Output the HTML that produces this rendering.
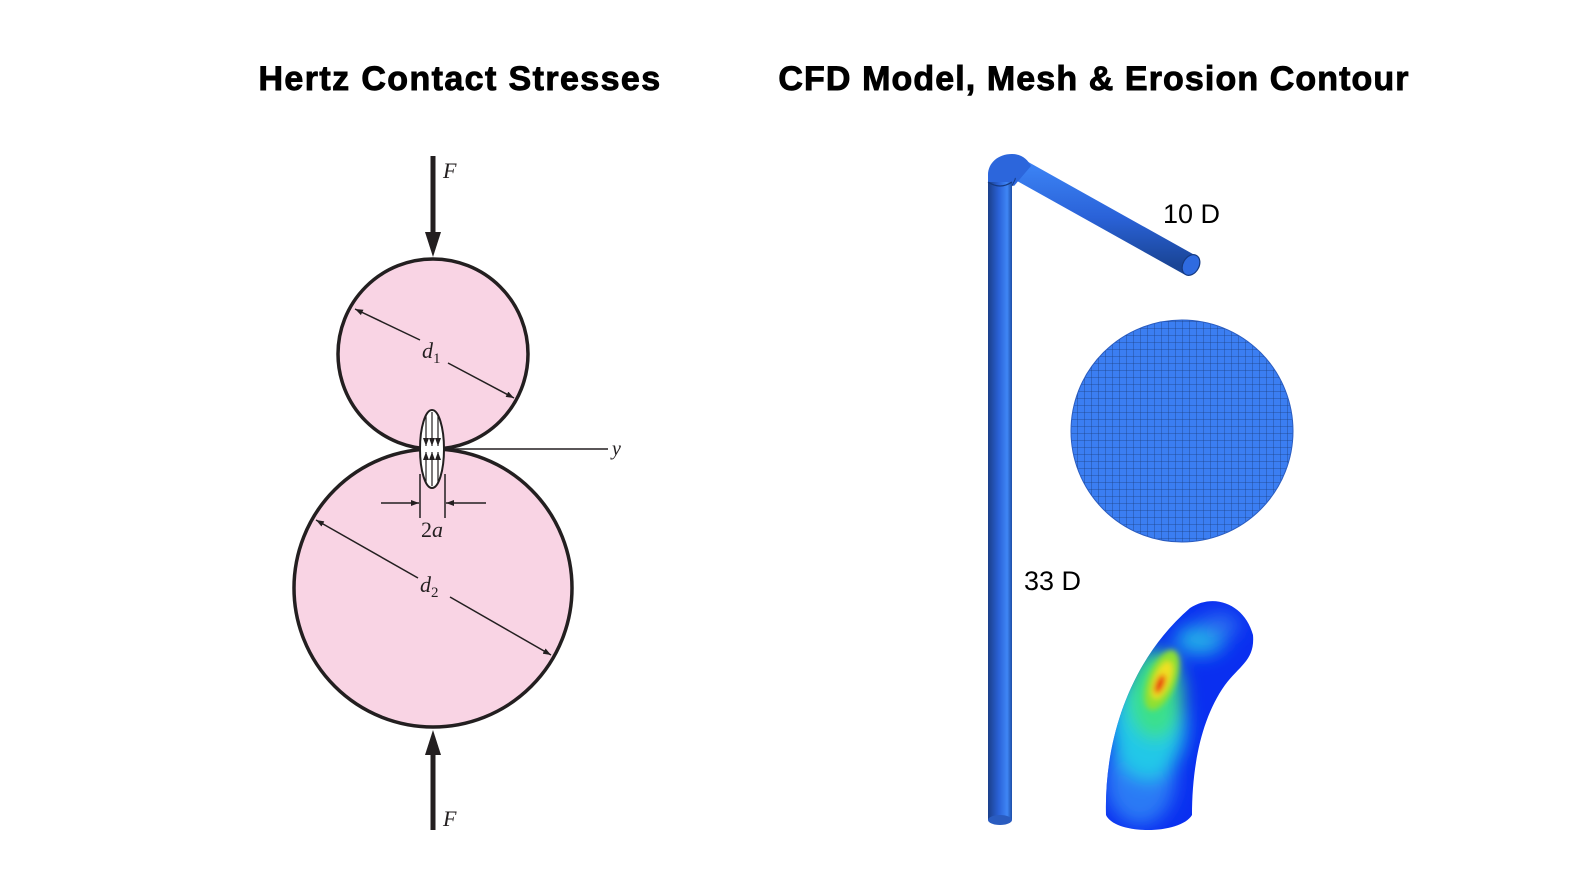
<!DOCTYPE html>
<html><head><meta charset="utf-8"><style>
html,body{margin:0;padding:0;background:#fff;width:1596px;height:892px;overflow:hidden}
svg{display:block}
</style></head><body>
<svg width="1596" height="892" viewBox="0 0 1596 892" xmlns="http://www.w3.org/2000/svg">
<defs>
<marker id="sa" markerWidth="8" markerHeight="6" refX="8" refY="3" orient="auto" markerUnits="userSpaceOnUse"><path d="M0,0 L8,3 L0,6z" fill="#231f20"/></marker>
<pattern id="grid" width="7" height="7" patternUnits="userSpaceOnUse"><path d="M7 0V7M0 7H7" stroke="#17366e" stroke-width="0.8" opacity="0.85"/></pattern>
<linearGradient id="pv" x1="0" x2="1" y1="0" y2="0"><stop offset="0" stop-color="#1b3f8a"/><stop offset="0.45" stop-color="#2a62d8"/><stop offset="0.8" stop-color="#3f86f5"/><stop offset="1" stop-color="#1d4ea8"/></linearGradient>
<linearGradient id="ph" x1="0" x2="0" y1="0" y2="1"><stop offset="0" stop-color="#3a80f2"/><stop offset="0.5" stop-color="#2a62d8"/><stop offset="1" stop-color="#1a4596"/></linearGradient>
<clipPath id="bend"><path d="M1106,815 C1104,740 1130,660 1190,608 C1215,592 1245,605 1253,635 C1255,660 1240,665 1225,685 C1200,720 1192,770 1192,815 C1180,835 1115,835 1106,815z"/></clipPath>
<filter id="bl"><feGaussianBlur stdDeviation="9"/></filter>
<filter id="bl2"><feGaussianBlur stdDeviation="3"/></filter>
</defs>

<g font-family="Liberation Sans, sans-serif" font-weight="bold" font-size="34" fill="#000" stroke="#000" stroke-width="0.9" text-anchor="middle">
<text x="460" y="90" letter-spacing="1.4">Hertz Contact Stresses</text>
<text x="1094" y="90" letter-spacing="1.1">CFD Model, Mesh &amp; Erosion Contour</text>
</g>

<!-- Hertz -->
<circle cx="433" cy="354" r="95" fill="#f9d4e4" stroke="#231f20" stroke-width="3.5"/>
<circle cx="433" cy="588" r="139" fill="#f9d4e4" stroke="#231f20" stroke-width="3.5"/>
<line x1="433" y1="156" x2="433" y2="235" stroke="#231f20" stroke-width="5"/>
<polygon points="425,232 441,232 433,257" fill="#231f20"/>
<line x1="433" y1="830" x2="433" y2="752" stroke="#231f20" stroke-width="5"/>
<polygon points="425,755 441,755 433,730" fill="#231f20"/>
<text x="443" y="178" font-family="Liberation Serif, serif" font-style="italic" font-size="22" fill="#231f20">F</text>
<text x="443" y="826" font-family="Liberation Serif, serif" font-style="italic" font-size="22" fill="#231f20">F</text>
<line x1="433" y1="449" x2="608" y2="449" stroke="#231f20" stroke-width="1.5"/>
<text x="612" y="455" font-family="Liberation Serif, serif" font-style="italic" font-size="20" fill="#231f20">y</text>
<ellipse cx="432" cy="449" rx="12" ry="39" fill="#fff" stroke="#231f20" stroke-width="2"/>
<g stroke="#231f20" stroke-width="1.2">
<line x1="426" y1="414" x2="426" y2="446" marker-end="url(#sa)"/><line x1="432" y1="412" x2="432" y2="446" marker-end="url(#sa)"/><line x1="438" y1="414" x2="438" y2="446" marker-end="url(#sa)"/>
<line x1="426" y1="484" x2="426" y2="452" marker-end="url(#sa)"/><line x1="432" y1="486" x2="432" y2="452" marker-end="url(#sa)"/><line x1="438" y1="484" x2="438" y2="452" marker-end="url(#sa)"/>
</g>
<line x1="420" y1="474" x2="420" y2="518" stroke="#231f20" stroke-width="1.5"/>
<line x1="445" y1="474" x2="445" y2="518" stroke="#231f20" stroke-width="1.5"/>
<line x1="381" y1="503" x2="419" y2="503" stroke="#231f20" stroke-width="1.5" marker-end="url(#sa)"/>
<line x1="486" y1="503" x2="446" y2="503" stroke="#231f20" stroke-width="1.5" marker-end="url(#sa)"/>
<text x="432" y="537" font-family="Liberation Serif, serif" font-size="22" text-anchor="middle" fill="#231f20">2<tspan font-style="italic">a</tspan></text>
<line x1="420" y1="340" x2="355" y2="309" stroke="#231f20" stroke-width="1.5" marker-end="url(#sa)"/>
<line x1="448" y1="363" x2="514" y2="398" stroke="#231f20" stroke-width="1.5" marker-end="url(#sa)"/>
<text x="422" y="358" font-family="Liberation Serif, serif" font-style="italic" font-size="22" fill="#231f20">d<tspan font-style="normal" font-size="15" dy="5">1</tspan></text>
<line x1="418" y1="578" x2="316" y2="520" stroke="#231f20" stroke-width="1.5" marker-end="url(#sa)"/>
<line x1="450" y1="597" x2="551" y2="655" stroke="#231f20" stroke-width="1.5" marker-end="url(#sa)"/>
<text x="420" y="592" font-family="Liberation Serif, serif" font-style="italic" font-size="22" fill="#231f20">d<tspan font-style="normal" font-size="15" dy="5">2</tspan></text>

<!-- Pipe -->
<line x1="1020" y1="170" x2="1190" y2="265" stroke="url(#ph)" stroke-width="22"/>
<ellipse cx="1191" cy="265" rx="8" ry="11" transform="rotate(30 1191 265)" fill="#2f6be0" stroke="#163a80" stroke-width="1.2"/>
<path d="M988,185 L988,175 C988,163 998,154 1012,154 C1022,154 1028,160 1031,166 L1014,186 L1012,185 Z" fill="#2c66dc"/>
<path d="M1012,186 C1014,181 1016,179 1015,178" fill="none" stroke="#163a80" stroke-width="1"/>
<rect x="988" y="182" width="24" height="638" fill="url(#pv)"/>
<path d="M988,182 Q1000,190 1012,182" fill="none" stroke="#163a80" stroke-width="1.2"/>
<ellipse cx="1000" cy="820" rx="12" ry="5" fill="#2a5cc0"/>
<text x="1163" y="223" font-family="Liberation Sans, sans-serif" font-size="27" fill="#000">10 D</text>
<text x="1024" y="590" font-family="Liberation Sans, sans-serif" font-size="27" fill="#000">33 D</text>

<!-- Mesh -->
<circle cx="1182" cy="431" r="111" fill="#3b7ef2"/>
<circle cx="1182" cy="431" r="111" fill="url(#grid)"/>
<circle cx="1182" cy="431" r="111" fill="none" stroke="#2a5cc0" stroke-width="1"/>

<!-- Erosion -->
<g clip-path="url(#bend)">
<rect x="1090" y="590" width="180" height="250" fill="#0a2ff0"/>
<g filter="url(#bl)">
<ellipse cx="1140" cy="780" rx="35" ry="45" fill="#2a7af5"/>
<ellipse cx="1148" cy="725" rx="38" ry="55" fill="#23c8e8"/>
<ellipse cx="1155" cy="695" rx="28" ry="45" fill="#3ae08a"/>
<ellipse cx="1200" cy="640" rx="25" ry="15" fill="#23b0e8"/>
<ellipse cx="1220" cy="625" rx="20" ry="12" fill="#2a6cf0"/>
</g>
<g filter="url(#bl2)">
<ellipse cx="1162" cy="680" rx="14" ry="32" transform="rotate(22 1162 680)" fill="#8fe030"/>
<ellipse cx="1162" cy="680" rx="8" ry="20" transform="rotate(22 1162 680)" fill="#f0e020"/>
<ellipse cx="1160" cy="684" rx="4" ry="10" transform="rotate(22 1160 684)" fill="#e81010"/>
</g>
</g>
</svg>
</body></html>
